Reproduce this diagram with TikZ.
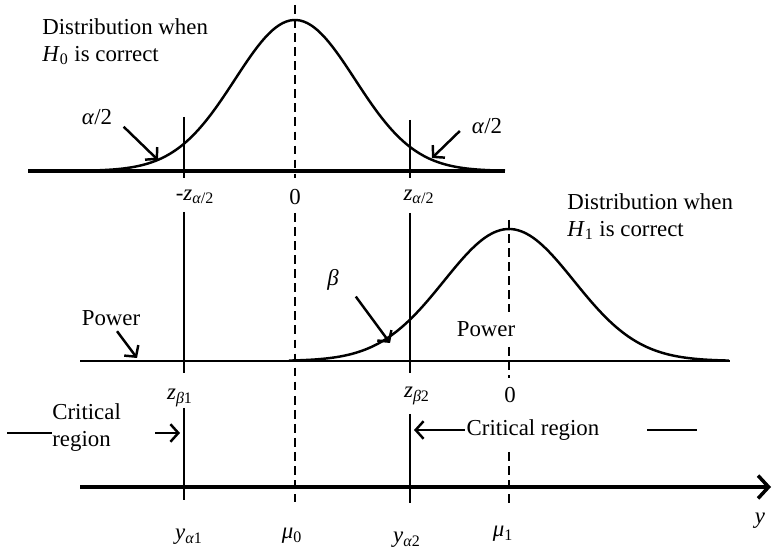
\documentclass[tikz,border=0pt]{standalone}
\usepackage{fontspec}
\setmainfont{Liberation Serif}
\usetikzlibrary{positioning, arrows.meta}

\begin{document}
\begin{tikzpicture}[font=\fontsize{13}{15.3}\selectfont,
  lbl/.style={inner sep=1pt},
  txt/.style={inner sep=0pt, align=left},
  curve/.style={line width=1.4pt},
  base/.style={line width=2pt},
  vline/.style={line width=1.1pt},
  dline/.style={line width=1.5pt, dash pattern=on 5pt off 3pt},
  arr/.style={line width=1.4pt, -{Straight Barb[length=4.5pt,width=10pt]}}]
  \useasboundingbox (0,0) rectangle (15.44,11);

  % distribution under H0
  \draw[base] (0.56,7.58) -- (10.1,7.58);
  \draw[curve] plot[domain=1.7:10.1, samples=120, smooth]
    (\x, {7.58+3.02*exp(-(\x-5.9)*(\x-5.9)/2.88)});

  % distribution under H1
  \draw[line width=1.4pt] (1.6,3.78) -- (14.6,3.78);
  \draw[curve] plot[domain=5.78:14.58, samples=120, smooth]
    (\x, {3.78+2.64*exp(-(\x-10.18)*(\x-10.18)/3.38)});

  % y axis
  \draw[base, -{Straight Barb[length=6pt,width=13pt]}] (1.6,1.26) -- (15.42,1.26);

  % solid verticals (critical values)
  \foreach \a/\b in {8.66/7.44, 6.76/3.54, 2.84/1.0}{
    \draw[vline] (3.68,\a) -- (3.68,\b);
  }
  \foreach \a/\b in {8.6/7.44, 6.74/3.54, 2.72/0.94}{
    \draw[vline] (8.2,\a) -- (8.2,\b);
  }

  % dashed verticals (means)
  \foreach \a/\b in {10.9/7.44, 6.74/0.96}{
    \draw[dline] (5.9,\a) -- (5.9,\b);
  }
  \foreach \a/\b in {6.6/4.76, 4.06/3.44, 1.96/0.9}{
    \draw[dline] (10.18,\a) -- (10.18,\b);
  }

  % texts
  \node[txt, anchor=north west] (dist0) at (0.84,10.64)
    {Distribution when\\\textit{H}\textsubscript{0} is correct};
  \node[txt, anchor=north west] (dist1) at (11.34,7.14)
    {Distribution when\\\textit{H}\textsubscript{1} is correct};
  \node[lbl] (alphaL) at (1.94,8.66) {\textit{α}/2};
  \node[lbl] (alphaR) at (9.74,8.48) {\textit{α}/2};
  \node[lbl] (zaL) at (3.9,7.06) {-\textit{z}\textsubscript{\textit{α}/2}};
  \node[lbl] (zero0) at (5.9,7.06) {0};
  \node[lbl] (zaR) at (8.38,7.06) {\textit{z}\textsubscript{\textit{α}/2}};
  \node[lbl] (beta) at (6.66,5.4) {\textit{β}};
  \node[lbl] (powL) at (2.22,4.64) {Power};
  \node[lbl] (powR) at (9.72,4.42) {Power};
  \node[lbl] (zbL) at (3.6,3.04) {\textit{z}\textsubscript{\textit{β}1}};
  \node[lbl] (zbR) at (8.34,3.08) {\textit{z}\textsubscript{\textit{β}2}};
  \node[lbl] (zero1) at (10.2,3.1) {0};
  \node[txt, anchor=north west] (critL) at (1.04,2.94) {Critical\\region};
  \node[lbl] (critR) at (10.66,2.4) {Critical region};
  \node[lbl] (yaL) at (3.78,0.26) {\textit{y}\textsubscript{\textit{α}1}};
  \node[lbl] (mu0) at (5.84,0.28) {\textit{μ}\textsubscript{0}};
  \node[lbl] (yaR) at (8.14,0.2) {\textit{y}\textsubscript{\textit{α}2}};
  \node[lbl] (mu1) at (10.06,0.32) {\textit{μ}\textsubscript{1}};
  \node[lbl] (yax) at (15.2,0.58) {\textit{y}};

  % arrow ends
  \coordinate (tipAL) at (3.16,7.8);
  \coordinate (tipAR) at (8.64,7.84);
  \coordinate (tipB) at (7.8,4.14);
  \coordinate (tipPL) at (2.74,3.84);
  \coordinate (tipCL) at (3.6,2.34);
  \coordinate (tailCL) at (3.1,2.34);
  \coordinate (tipCR) at (8.28,2.4);
  \coordinate (endL) at (0.14,2.34);
  \coordinate (barA) at (12.94,2.4);
  \coordinate (barB) at (13.94,2.4);

  \draw[arr] ([shift={(0.19,0)}]alphaL.south east) -- (tipAL);
  \draw[arr] ([shift={(-0.2,-0.1)}]alphaR.west) -- (tipAR);
  \draw[arr] ([shift={(0.3,-0.08)}]beta.south east) -- (tipB);
  \draw[arr] ([shift={(0.12,-0.07)}]powL.south) -- (tipPL);
  \draw[arr] (tailCL) -- (tipCL);
  \draw[arr] (critR.west) -- (tipCR);
  \draw[line width=1.4pt] (endL) -- (endL -| critL.west);
  \draw[line width=1.4pt] (barA) -- (barB);

\end{tikzpicture}
\end{document}
